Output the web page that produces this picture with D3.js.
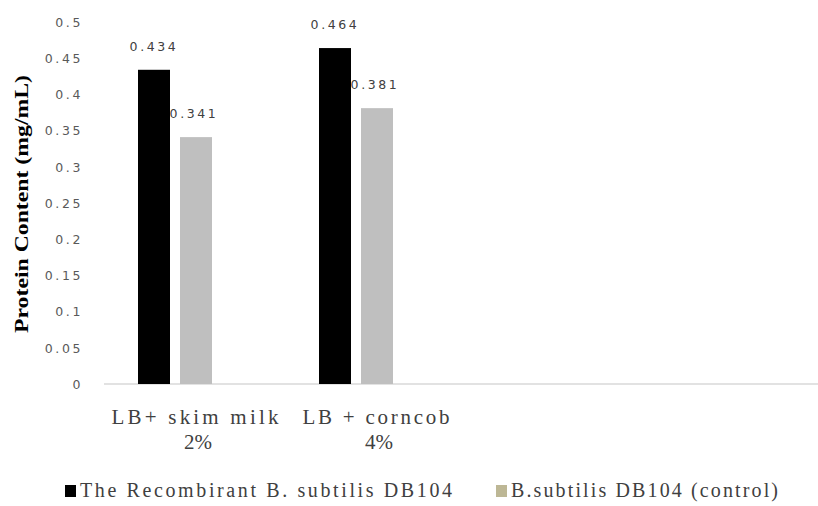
<!DOCTYPE html>
<html>
<head>
<meta charset="utf-8">
<script src="https://cdn.jsdelivr.net/npm/d3@7"></script>
<style>
  html, body { margin: 0; padding: 0; background: #fff; }
  svg { display: block; }
</style>
</head>
<body>
<svg id="chart" width="818" height="506"></svg>
<script>
// Protein content per growth medium
const categories = ["LB+ skim milk\n2%", "LB + corncob\n4%", "", ""];
const seriesNames = ["The Recombirant B. subtilis DB104", "B.subtilis DB104 (control)"];
const recombinantValues = [0.434, 0.464];
const controlValues = [0.341, 0.381];
const yTicks = [0, 0.05, 0.1, 0.15, 0.2, 0.25, 0.3, 0.35, 0.4, 0.45, 0.5];
const yTickLabels = ["0", "0.05", "0.1", "0.15", "0.2", "0.25", "0.3", "0.35", "0.4", "0.45", "0.5"];

const seriesColors = ["#000000", "#bfbfbf"];
const legendColors = ["#000000", "#bdb795"];
const seriesValues = [recombinantValues, controlValues];

const svg = d3.select("#chart");

const x0 = d3.scaleBand()
  .domain(d3.range(categories.length))
  .range([105.5, 829.5]);

// each category reserves room for three bars; two are filled
const clusterWidth = 116;
const x1 = d3.scaleBand()
  .domain(d3.range(seriesNames.length))
  .range([0, 74])
  .paddingInner(10 / 42);

const y = d3.scaleLinear().domain([0, 0.5]).range([384, 22]);

// category axis line
svg.append("line")
  .attr("x1", 104).attr("x2", 818)
  .attr("y1", y(0)).attr("y2", y(0))
  .attr("stroke", "#d9d9d9").attr("stroke-width", 1.5);

// value axis labels
const yAxis = d3.axisLeft(y)
  .tickValues(yTicks)
  .tickFormat((d, i) => yTickLabels[i])
  .tickSize(0)
  .tickPadding(0);

const yG = svg.append("g")
  .attr("transform", "translate(83,0)")
  .call(yAxis);
yG.select(".domain").remove();
yG.selectAll("text")
  .attr("font-family", "DejaVu Sans, Verdana, sans-serif")
  .attr("font-size", 12.5)
  .attr("letter-spacing", 2.6)
  .attr("fill", "#595959")
  .attr("dy", "0.35em");

// value labels (drawn beneath the bars)
seriesValues.forEach((vals, s) => {
  svg.append("g").selectAll("text")
    .data(vals)
    .join("text")
    .attr("x", (d, i) => x0(i) + (x0.bandwidth() - clusterWidth) / 2 + x1(s) + x1.bandwidth() / 2 + (s === 0 ? 0 : -2))
    .attr("y", d => y(d) - 19)
    .attr("text-anchor", "middle")
    .attr("font-family", "DejaVu Sans, Verdana, sans-serif")
    .attr("font-size", 12.5)
    .attr("letter-spacing", 2.6)
    .attr("fill", "#404040")
    .text(d => d3.format(".3f")(d));
});

// bars
seriesValues.forEach((vals, s) => {
  svg.append("g").selectAll("rect")
    .data(vals)
    .join("rect")
    .attr("x", (d, i) => x0(i) + (x0.bandwidth() - clusterWidth) / 2 + x1(s))
    .attr("y", d => y(d))
    .attr("width", x1.bandwidth())
    .attr("height", d => y(0) - y(d))
    .attr("fill", seriesColors[s]);
});

// category labels
const catG = svg.append("g");
categories.forEach((c, i) => {
  if (!c) return;
  const lines = c.split("\n");
  const cx = x0(i) + x0.bandwidth() / 2;
  lines.forEach((ln, j) => {
    const t = catG.append("text")
      .attr("x", cx + (j === 0 ? -1 : 2))
      .attr("y", 424 + j * 25)
      .attr("text-anchor", "middle")
      .attr("font-family", "Liberation Serif, Times New Roman, serif")
      .attr("font-size", 21)
      .attr("fill", "#404040")
      .text(ln);
    if (j === 0) t.attr("textLength", i === 0 ? 167 : 147).attr("lengthAdjust", "spacing");
  });
});

// y-axis title
svg.append("text")
  .attr("transform", "translate(28,204) rotate(-90)")
  .attr("text-anchor", "middle")
  .attr("font-family", "Liberation Serif, Times New Roman, serif")
  .attr("font-weight", "bold")
  .attr("font-size", 19)
  .attr("fill", "#000")
  .attr("textLength", 258)
  .attr("lengthAdjust", "spacingAndGlyphs")
  .text("Protein Content (mg/mL)");

// legend
const legendItems = [
  { sx: 65, tx: 80, len: 372 },
  { sx: 496, tx: 511, len: 267 }
];
legendItems.forEach((it, i) => {
  svg.append("rect")
    .attr("x", it.sx).attr("y", 485)
    .attr("width", 11).attr("height", 12)
    .attr("fill", legendColors[i]);
  svg.append("text")
    .attr("x", it.tx).attr("y", 497)
    .attr("font-family", "Liberation Serif, Times New Roman, serif")
    .attr("font-size", 20)
    .attr("fill", "#404040")
    .attr("textLength", it.len)
    .attr("lengthAdjust", "spacing")
    .text(seriesNames[i]);
});
</script>
</body>
</html>
